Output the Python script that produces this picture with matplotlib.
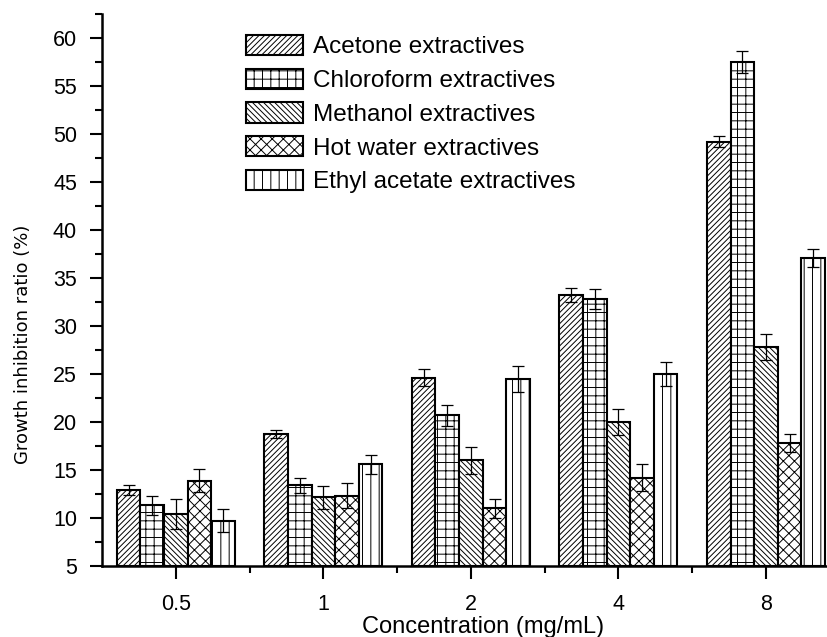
import matplotlib

matplotlib.use("Agg")
import matplotlib.pyplot as plt  # noqa: E402
import numpy as np  # noqa: E402
from matplotlib.ticker import MultipleLocator  # noqa: E402

# dữ liệu
concentrations = ["0.5", "1", "2", "4", "8"]
series_names = ["Acetone extractives", "Chloroform extractives",
                "Methanol extractives", "Hot water extractives",
                "Ethyl acetate extractives"]
acetone = [12.9, 18.75, 24.6, 33.25, 49.2]
acetone_err = [0.55, 0.45, 0.9, 0.75, 0.55]
chloroform = [11.3, 13.4, 20.7, 32.8, 57.5]
chloroform_err = [1.0, 0.8, 1.1, 1.05, 1.1]
methanol = [10.4, 12.15, 16.0, 20.0, 27.8]
methanol_err = [1.6, 1.2, 1.4, 1.35, 1.35]
hot_water = [13.9, 12.3, 11.0, 14.2, 17.8]
hot_water_err = [1.2, 1.3, 1.0, 1.4, 0.9]
ethyl = [9.7, 15.6, 24.45, 25.0, 37.1]
ethyl_err = [1.2, 1.0, 1.35, 1.2, 0.95]

values = [acetone, chloroform, methanol, hot_water, ethyl]
errors = [acetone_err, chloroform_err, methanol_err, hot_water_err, ethyl_err]
hatches = ["//////", "++", "\\\\\\\\\\\\", "xxx", "||"]

plt.rcParams["font.family"] = ["Liberation Sans", "DejaVu Sans"]
plt.rcParams["hatch.linewidth"] = 0.7

fig = plt.figure(figsize=(8.28, 6.37), dpi=100)
ax = fig.add_axes([0.1232, 0.1115, 0.8768, 0.8665])

x = np.arange(len(concentrations))
w = 0.16
for i, (vals, errs) in enumerate(zip(values, errors)):
    pos = x + (i - 2) * w
    ax.bar(pos, np.array(vals) - 5, w, bottom=5, color="white",
           edgecolor="black", linewidth=1.5, hatch=hatches[i],
           label=series_names[i], zorder=2)
    ax.errorbar(pos, vals, yerr=errs, fmt="none", ecolor="black",
                elinewidth=0.9, capsize=4, capthick=0.9, zorder=3)

ax.set_xlim(-0.5, 4.42)
ax.set_ylim(5, 62.5)
ax.set_xticks(x)
ax.set_xticklabels(concentrations)
ax.set_xticks(x[:-1] + 0.5, minor=True)
ax.yaxis.set_major_locator(MultipleLocator(5))
ax.yaxis.set_minor_locator(MultipleLocator(2.5))

for s in ("top", "right"):
    ax.spines[s].set_visible(False)
for s in ("left", "bottom"):
    ax.spines[s].set_linewidth(1.8)

ax.tick_params(axis="both", which="major", direction="out", length=9,
               width=1.5, labelsize=15.5)
ax.tick_params(axis="y", which="major", pad=9)
ax.tick_params(axis="x", which="major", pad=11)
ax.tick_params(axis="both", which="minor", direction="out", length=5,
               width=1.5)

fig.text(0.583, 0.007, "Concentration (mg/mL)", ha="center",
         va="baseline", fontsize=17)
fig.text(0.028, 0.46, "Growth inhibition ratio (%)", rotation=90,
         ha="center", va="center", fontsize=13,
         family=["Liberation Sans Narrow", "DejaVu Sans"])

ax.legend(loc="upper left", bbox_to_anchor=(0.198, 0.962), frameon=False,
          fontsize=17.5, handlelength=2.35, handleheight=0.9,
          handletextpad=0.4, labelspacing=0.42, borderaxespad=0,
          borderpad=0)

fig.savefig("out.png", dpi=100, facecolor="white")
